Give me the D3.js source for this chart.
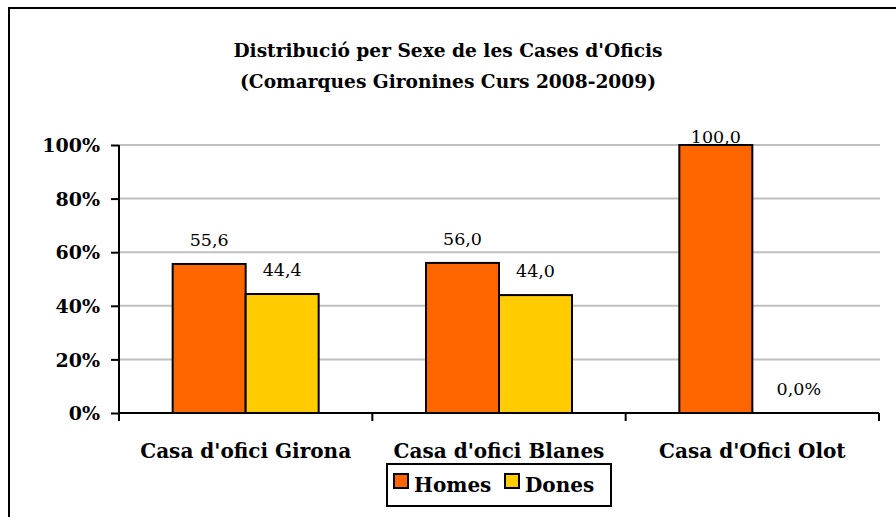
<!DOCTYPE html>
<html>
<head>
<meta charset="utf-8">
<script src="https://cdn.jsdelivr.net/npm/d3@7/dist/d3.min.js"></script>
<style>
  body { margin: 0; background: #fff; }
  svg { display: block; }
  text { font-family: "Palatino Linotype", "Book Antiqua", Palatino, "DejaVu Serif", serif; fill: #000; }
</style>
</head>
<body>
<div id="chart"></div>
<script>
// data
var categories = ["Casa d'ofici Girona", "Casa d'ofici Blanes", "Casa d'Ofici Olot"];
var series = ["Homes", "Dones"];
var homes = [55.6, 56.0, 100.0];
var dones = [44.4, 44.0, 0.0];
var homesLabels = ["55,6", "56,0", "100,0"];
var donesLabels = ["44,4", "44,0", "0,0%"];
var yTicks = [0, 20, 40, 60, 80, 100];
var colors = ["#ff6600", "#ffcc00"];

var W = 896, H = 517;
var svg = d3.select("#chart").append("svg")
  .attr("width", W)
  .attr("height", H);

// outer chart border (right/bottom run off the picture)
svg.append("path")
  .attr("d", "M9," + (H + 5) + " V8 H" + (W + 5))
  .attr("fill", "none")
  .attr("stroke", "#000")
  .attr("stroke-width", 2);

// title
svg.append("text")
  .attr("x", 448).attr("y", 57)
  .attr("text-anchor", "middle")
  .style("font-weight", "bold").style("font-size", "18.6px")
  .text("Distribució per Sexe de les Cases d'Oficis");
svg.append("text")
  .attr("x", 448).attr("y", 88)
  .attr("text-anchor", "middle")
  .style("font-weight", "bold").style("font-size", "18.6px")
  .text("(Comarques Gironines Curs 2008-2009)");

var x0 = d3.scaleBand().domain(categories).range([119, 879]).padding(0);
var x1 = d3.scaleBand().domain(series).range([0, x0.bandwidth()])
  .paddingInner(0).paddingOuter(0.735);
var y = d3.scaleLinear().domain([0, 100]).range([413, 145]);

// gridlines
svg.append("g").selectAll("line")
  .data(yTicks.filter(function(d) { return d > 0; }))
  .enter().append("line")
  .attr("x1", 119).attr("x2", 880)
  .attr("y1", function(d) { return y(d); })
  .attr("y2", function(d) { return y(d); })
  .attr("stroke", "#c0c0c0")
  .attr("stroke-width", 2);

// bars
var rows = categories.map(function(c, i) {
  return [
    { cat: c, s: "Homes", v: homes[i], lab: homesLabels[i], col: colors[0] },
    { cat: c, s: "Dones", v: dones[i], lab: donesLabels[i], col: colors[1] }
  ];
});

var groups = svg.append("g").selectAll("g")
  .data(rows)
  .enter().append("g")
  .attr("transform", function(d, i) { return "translate(" + x0(categories[i]) + ",0)"; });

groups.selectAll("rect")
  .data(function(d) { return d.filter(function(b) { return b.v > 0; }); })
  .enter().append("rect")
  .attr("x", function(d) { return x1(d.s); })
  .attr("y", function(d) { return y(d.v); })
  .attr("width", x1.bandwidth())
  .attr("height", function(d) { return y(0) - y(d.v); })
  .attr("fill", function(d) { return d.col; })
  .attr("stroke", "#000")
  .attr("stroke-width", 2);

groups.selectAll("text")
  .data(function(d) { return d; })
  .enter().append("text")
  .attr("x", function(d) {
    var c = x1(d.s) + x1.bandwidth() / 2;
    return d.v === 0 ? c + 10 : c;
  })
  .attr("y", function(d) { return Math.max(y(d.v) - 18, y(100) - 2); })
  .attr("text-anchor", "middle")
  .style("font-size", "17.5px")
  .text(function(d) { return d.lab; });

// y axis
var yAxis = svg.append("g")
  .attr("transform", "translate(119,0)")
  .call(d3.axisLeft(y).tickValues(yTicks).tickSize(8).tickPadding(11)
    .tickFormat(function(d) { return d + "%"; }));
yAxis.select(".domain").attr("stroke", "#000").attr("stroke-width", 2)
  .attr("d", "M0,145 V421");
yAxis.selectAll(".tick line").attr("stroke", "#000").attr("stroke-width", 2);
yAxis.selectAll(".tick text")
  .style("font-size", "19px").style("font-weight", "bold")
  .attr("dy", "0.35em");

// x axis
var xAxis = svg.append("g")
  .attr("transform", "translate(0,413)")
  .call(d3.axisBottom(x0).tickSize(0).tickPadding(31));
xAxis.select(".domain").attr("stroke", "#000").attr("stroke-width", 2)
  .attr("d", "M119,0 H879");
xAxis.selectAll(".tick text")
  .style("font-size", "20px").style("font-weight", "bold");
svg.append("g").selectAll("line")
  .data(categories.concat(["end"]))
  .enter().append("line")
  .attr("x1", function(d, i) { return x0.range()[0] + i * x0.step(); })
  .attr("x2", function(d, i) { return x0.range()[0] + i * x0.step(); })
  .attr("y1", 413).attr("y2", 421)
  .attr("stroke", "#000").attr("stroke-width", 2);

// legend
var leg = svg.append("g");
leg.append("rect")
  .attr("x", 387).attr("y", 464).attr("width", 224).attr("height", 42)
  .attr("fill", "#fff").attr("stroke", "#000").attr("stroke-width", 2);
var legX = [394, 505];
series.forEach(function(s, i) {
  leg.append("rect")
    .attr("x", legX[i]).attr("y", 474).attr("width", 14).attr("height", 14)
    .attr("fill", colors[i]).attr("stroke", "#000").attr("stroke-width", 2);
  leg.append("text")
    .attr("x", legX[i] + 20).attr("y", 492)
    .style("font-size", "20px").style("font-weight", "bold")
    .text(s);
});
</script>
</body>
</html>
